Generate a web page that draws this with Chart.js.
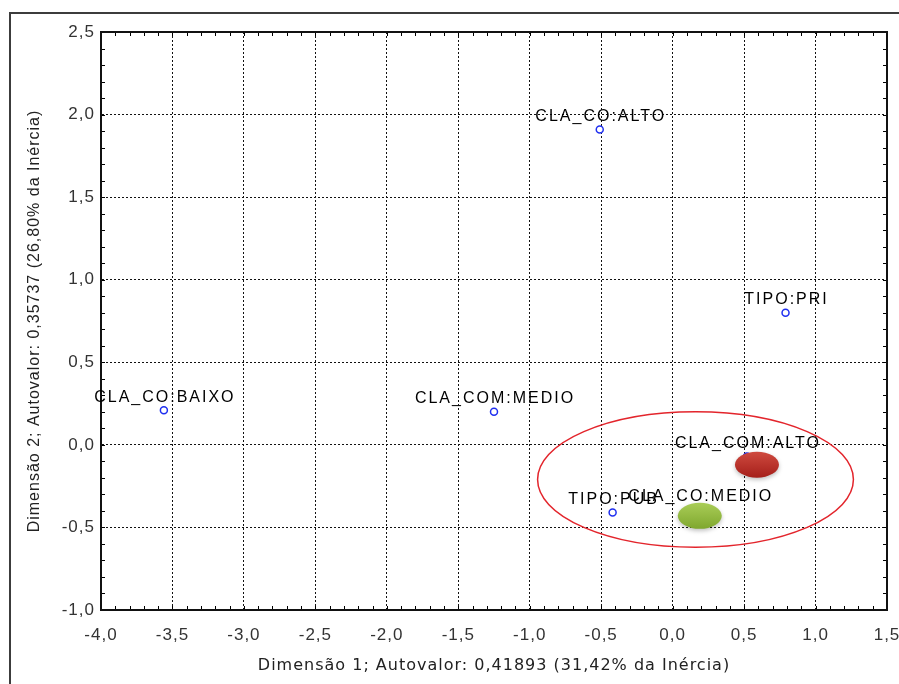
<!DOCTYPE html>
<html>
<head>
<meta charset="utf-8">
<script src="https://cdn.jsdelivr.net/npm/chart.js@4.4.1/dist/chart.umd.min.js"></script>
<style>
  html, body { margin: 0; padding: 0; background: #fff; }
  #wrap { width: 899px; height: 684px; position: relative; }
</style>
</head>
<body>
<div id="wrap"><canvas id="chartCA"></canvas></div>
<script>
// categorias e coordenadas (dimensão 1 / dimensão 2)
const categorias = ['CLA_CO:ALTO', 'TIPO:PRI', 'CLA_CO:BAIXO', 'CLA_COM:MEDIO', 'CLA_COM:ALTO', 'TIPO:PUB', 'CLA_CO:MEDIO'];
const dim1 = [-0.51, 0.79, -3.56, -1.25, 0.52, -0.42, 0.19];
const dim2 = [1.91, 0.80, 0.21, 0.20, -0.07, -0.41, -0.39];

// eixos
const xMin = -4.0, xMax = 1.5;
const yMin = -1.0, yMax = 2.5;
const passo = 0.5;
const passoMenor = 0.1;

// destaques (centro em unidades dos eixos)
const grupoX = [0.16];
const grupoY = [-0.21];
const grupoRx = [1.105];
const grupoRy = [0.41];
const marcaX = [0.59, 0.19];
const marcaY = [-0.12, -0.43];
const marcaCor = [['#cf4a3f', '#a51f1a'], ['#a9cd57', '#7fa72e']];

const fmt = v => v.toFixed(1).replace('.', ',');

const extras = {
  id: 'extras',
  beforeDraw(chart) {
    const ctx = chart.ctx;
    ctx.save();
    ctx.fillStyle = '#fff';
    ctx.fillRect(0, 0, chart.width, chart.height);
    ctx.strokeStyle = '#3c3c3c';
    ctx.lineWidth = 2;
    ctx.beginPath();
    ctx.moveTo(10, chart.height);
    ctx.lineTo(10, 13);
    ctx.lineTo(chart.width, 13);
    ctx.stroke();
    ctx.restore();
    ctx.letterSpacing = '1px';
  },
  afterDatasetsDraw(chart) {
    const ctx = chart.ctx;
    const xs = chart.scales.x, ys = chart.scales.y;
    const a = chart.chartArea;
    ctx.save();
    ctx.letterSpacing = '0px';

    // marcas menores para dentro
    ctx.strokeStyle = '#000';
    ctx.lineWidth = 1;
    ctx.beginPath();
    for (let v = xMin; v <= xMax + 1e-9; v += passoMenor) {
      const px = Math.round(xs.getPixelForValue(v)) + 0.5;
      ctx.moveTo(px, a.bottom); ctx.lineTo(px, a.bottom - 4);
      ctx.moveTo(px, a.top); ctx.lineTo(px, a.top + 4);
    }
    for (let v = yMin; v <= yMax + 1e-9; v += passoMenor) {
      const py = Math.round(ys.getPixelForValue(v)) + 0.5;
      ctx.moveTo(a.left, py); ctx.lineTo(a.left + 4, py);
      ctx.moveTo(a.right, py); ctx.lineTo(a.right - 4, py);
    }
    ctx.stroke();

    // moldura da área
    ctx.lineWidth = 2;
    ctx.strokeStyle = '#111';
    ctx.strokeRect(a.left, a.top, a.right - a.left, a.bottom - a.top);

    // rótulos dos pontos
    ctx.fillStyle = '#000';
    ctx.font = '16px "Liberation Sans", Arial, sans-serif';
    ctx.letterSpacing = '2px';
    ctx.textAlign = 'center';
    ctx.textBaseline = 'middle';
    const meta = chart.getDatasetMeta(0);
    meta.data.forEach((pt, i) => {
      ctx.fillText(categorias[i], pt.x + 1, pt.y - 13);
    });

    // elipse do grupo
    ctx.strokeStyle = '#e3252c';
    ctx.lineWidth = 1.5;
    grupoX.forEach((cx, i) => {
      const px = xs.getPixelForValue(cx), py = ys.getPixelForValue(grupoY[i]);
      const rx = xs.getPixelForValue(cx + grupoRx[i]) - px;
      const ry = py - ys.getPixelForValue(grupoY[i] + grupoRy[i]);
      ctx.beginPath();
      ctx.ellipse(px, py, rx, ry, 0, 0, Math.PI * 2);
      ctx.stroke();
    });

    // marcas preenchidas
    marcaX.forEach((cx, i) => {
      const px = xs.getPixelForValue(cx), py = ys.getPixelForValue(marcaY[i]);
      ctx.save();
      ctx.shadowColor = 'rgba(0,0,0,0.25)';
      ctx.shadowBlur = 4;
      ctx.shadowOffsetY = 2;
      const g = ctx.createLinearGradient(px, py - 13, px, py + 13);
      g.addColorStop(0, marcaCor[i][0]);
      g.addColorStop(1, marcaCor[i][1]);
      ctx.fillStyle = g;
      ctx.beginPath();
      ctx.ellipse(px, py, 22, 13, 0, 0, Math.PI * 2);
      ctx.fill();
      ctx.restore();
    });
    ctx.restore();
  },
  afterDraw(chart) {
    chart.ctx.letterSpacing = '0px';
  }
};

const data = {
  datasets: [{
    label: 'Categorias',
    data: dim1.map((x, i) => ({ x: x, y: dim2[i] })),
    pointStyle: 'circle',
    pointRadius: 3.5,
    pointBorderWidth: 1.5,
    pointBorderColor: '#1f2ff0',
    pointBackgroundColor: '#fff'
  }]
};

const grade = {
  color: '#111',
  lineWidth: 1,
  drawTicks: false
};

const config = {
  type: 'scatter',
  data: data,
  plugins: [extras],
  options: {
    responsive: false,
    animation: false,
    layout: { padding: { top: 32, right: 12, left: 0, bottom: 0 } },
    plugins: {
      legend: { display: false },
      tooltip: { enabled: false }
    },
    scales: {
      x: {
        type: 'linear',
        min: xMin,
        max: xMax,
        grid: grade,
        border: { display: true, color: '#111', width: 2, dash: [2, 2] },
        ticks: {
          stepSize: passo,
          padding: 15,
          color: '#333',
          font: { family: '"Liberation Sans", Arial, sans-serif', size: 17 },
          callback: v => fmt(v)
        },
        title: {
          display: true,
          text: 'Dimensão 1; Autovalor: 0,41893 (31,42% da Inércia)',
          color: '#222',
          font: { family: '"DejaVu Sans", Verdana, sans-serif', size: 16 },
          padding: { top: 0, bottom: 9 }
        },
        afterFit(scale) {
          scale.height = 74;
          scale.paddingLeft = 0;
          scale.paddingRight = 0;
        }
      },
      y: {
        type: 'linear',
        min: yMin,
        max: yMax,
        grid: grade,
        border: { display: true, color: '#111', width: 2, dash: [2, 2] },
        ticks: {
          stepSize: passo,
          padding: 6,
          color: '#333',
          font: { family: '"Liberation Sans", Arial, sans-serif', size: 17 },
          callback: v => fmt(v)
        },
        title: {
          display: true,
          text: 'Dimensão 2; Autovalor: 0,35737 (26,80% da Inércia)',
          color: '#222',
          font: { family: '"Liberation Sans", Arial, sans-serif', size: 16 },
          padding: { top: 25, bottom: 0 }
        },
        afterFit(scale) {
          scale.width = 101;
          scale.paddingTop = 0;
          scale.paddingBottom = 0;
        }
      }
    }
  }
};

const canvas = document.getElementById('chartCA');
canvas.width = 899;
canvas.height = 684;
const chartCA = new Chart(canvas, config);
</script>
</body>
</html>
